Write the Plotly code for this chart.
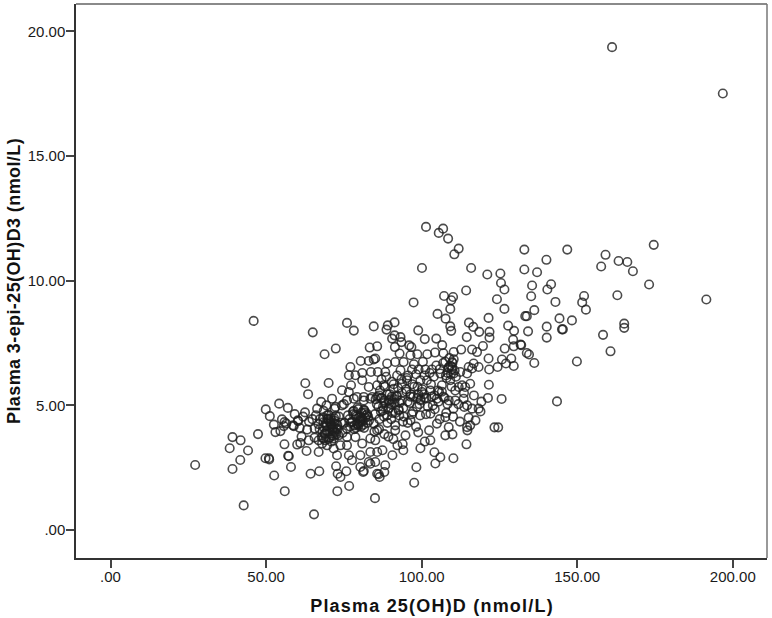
import plotly.graph_objects as go

x_tick_vals = [0, 50, 100, 150, 200]
x_tick_text = [".00", "50.00", "100.00", "150.00", "200.00"]
y_tick_vals = [0, 5, 10, 15, 20]
y_tick_text = [".00", "5.00", "10.00", "15.00", "20.00"]
x_title = "Plasma 25(OH)D (nmol/L)"
y_title = "Plasma 3-epi-25(OH)D3 (nmol/L)"

plasma_25ohd = [
 27.2,38.3,39.2,39.2,41.8,41.7,44.2,42.8,47.4,49.9,51.2,54.2,57.0,49.8,50.9,51.0,52.5,53.0,54.6,55.1,55.9,55.7,56.5,58.7,58.9,60.3,55.9,60.0,61.0,57.1,57.3,52.6,58.0,56.0,
 46.0,65.0,68.8,72.4,76.0,78.2,84.6,83.3,85.7,62.6,63.5,70.1,77.1,80.4,83.0,84.6,76.6,78.7,80.9,83.7,85.9,80.9,77.3,74.4,76.6,71.2,78.2,83.0,85.7,84.1,81.4,
 62.5,60.2,66.4,67.7,69.4,72.0,74.4,76.0,63.2,65.6,65.6,63.7,63.0,66.9,64.3,67.1,72.5,75.8,73.0,73.9,76.7,72.9,85.0,65.4,80.3,81.4,83.5,85.7,86.2,86.5,88.0,97.6,81.2,98.3,
 101.4,106.9,105.5,108.5,111.9,110.5,133.0,133.0,137.1,100.1,115.9,121.1,125.3,125.5,126.6,114.3,124.2,135.5,135.2,126.6,136.2,133.8,133.3,97.4,107.2,110.1,109.5,109.2,105.1,107.7,121.5,115.2,116.6,118.5,109.2,109.5,127.8,129.7,134.2,98.9,101.0,104.7,114.5,121.8,121.8,129.4,129.6,131.8,132.0,133.8,134.5,136.2,126.7,119.7,106.6,
 91.3,89.1,88.7,91.3,90.5,93.2,93.5,96.0,96.7,91.4,92.9,96.4,98.6,101.8,104.3,107.0,110.3,112.7,116.2,117.8,121.5,125.8,128.8,124.4,127.1,129.6,121.7,121.6,125.7,85.1,
 88.9,91.5,94.2,88.3,93.2,96.9,99.0,101.2,103.3,106.0,108.7,109.8,109.8,110.3,109.2,112.4,115.1,116.7,118.3,114.6,116.2,115.6,114.0,111.9,106.5,101.7,99.6,95.3,93.7,91.0,87.8,100.1,99.6,104.9,110.8,113.5,114.6,118.3,89.4,
 146.8,140.1,159.1,157.7,163.3,166.1,167.9,174.6,173.1,162.9,141.6,140.4,143.0,152.2,151.6,152.8,144.3,148.3,140.2,145.1,145.4,140.2,165.1,165.1,158.3,160.7,149.9,143.5,191.5,196.8,161.2,
 68.5,72.3,75.0,79.2,81.4,83.5,85.7,66.9,68.5,68.0,69.6,71.7,73.9,72.8,76.0,76.6,77.6,80.3,83.5,85.7,83.0,85.1,85.1,83.5,80.9,78.7,76.0,73.3,76.0,84.6,85.7,
 108.7,110.8,113.0,113.7,116.2,110.2,102.8,107.6,104.9,115.1,117.3,114.6,108.7,123.4,124.6,118.9,114.4,110.2,106.0,104.1,104.4,109.9,114.7,115.6,107.6,102.8,99.6,98.9,94.8,96.4,91.5,94.1,90.6,87.4,88.3,
 # knot near 70 / 4.1
 67.2,68.4,68.9,69.5,70.0,70.3,70.8,71.2,71.5,72.0,72.4,72.9,73.4,67.9,69.0,70.1,71.0,71.9,73.0,74.1,68.3,69.6,70.7,71.8,72.7,66.8,74.6,75.2,
 68.9,69.8,70.4,71.1,71.8,72.4,69.2,70.0,70.7,71.4,72.1,68.6,69.5,70.2,71.0,71.7,72.6,68.2,
 # knot near 80 / 4.5
 76.3,77.2,77.9,78.4,79.0,79.6,80.1,80.7,81.2,81.9,82.5,83.1,77.0,78.3,79.4,80.5,81.6,82.8,76.8,78.1,79.3,80.4,81.5,79.8,
 77.6,78.8,79.7,80.9,81.8,82.6,78.2,79.5,80.3,81.1,82.2,78.9,80.0,81.4,
 # around 90 / 5
 85.6,86.9,88.0,89.2,90.4,91.6,92.9,94.1,86.3,87.6,88.9,90.1,91.3,92.6,85.0,87.2,89.6,92.0,
 # column near 109 / 6.5
 108.0,108.6,109.4,109.9,110.6,107.6,108.9,109.7,110.3,108.3,109.2,111.0,
 # central body
 85.2,86.1,87.0,87.6,88.2,88.9,89.5,90.1,90.7,91.3,92.0,92.6,93.3,86.4,87.9,89.0,90.2,91.5,92.8,94.0,95.1,96.2,97.3,98.5,99.7,100.8,102.0,103.1,104.2,105.4,106.5,
 86.6,88.1,89.7,91.0,92.4,93.7,95.0,96.4,97.6,98.9,100.2,101.5,102.8,104.1,105.6,107.0,108.3,
 84.8,86.3,88.0,89.3,90.9,92.2,93.9,95.5,96.8,98.2,99.5,101.0,102.4,
 87.1,88.6,90.4,92.1,93.5,95.2,97.0,98.6,
 60.8,61.9,59.2,63.8,64.9,61.4,66.0,67.3,
 95.5,97.2,99.3,101.4,103.6,105.8,107.9,110.1,112.3,94.3,96.5,98.7,100.9,103.0,105.2,107.4,109.6,111.8,113.6,116.8,119.2,121.3,
 97.5,100.4,102.6,104.7,106.9,95.6,98.2,100.9,103.9,105.8,107.8,
]

plasma_epi = [
 2.61,3.28,3.73,2.45,3.60,2.81,3.19,0.99,3.85,4.84,4.57,5.07,4.90,2.88,2.88,2.83,4.23,3.93,3.97,4.44,4.33,4.17,4.27,4.20,4.17,4.37,3.44,3.43,3.49,2.98,2.96,2.19,2.53,1.56,
 8.39,7.93,7.05,7.28,8.31,8.00,8.17,7.32,7.37,5.89,5.45,5.90,6.54,6.78,6.78,6.84,6.21,6.21,6.30,6.34,6.34,6.01,5.81,5.61,5.54,5.27,5.27,5.74,5.81,5.34,5.20,
 4.72,4.40,4.87,5.14,5.00,4.87,5.00,5.20,4.03,4.07,3.71,3.60,3.17,3.13,2.26,2.36,2.56,2.36,2.26,2.13,1.77,1.56,1.28,0.63,2.53,2.37,2.66,2.26,2.24,2.13,2.33,1.90,2.33,2.52,
 12.16,12.09,11.92,11.69,11.29,11.06,11.25,10.45,10.34,10.51,10.51,10.25,10.29,9.91,9.65,9.61,9.26,9.81,9.38,8.87,8.82,8.58,8.58,9.13,9.39,9.35,9.22,8.87,8.67,8.48,8.51,8.32,8.15,7.95,8.17,7.99,8.20,7.99,7.97,8.01,7.66,7.68,7.74,7.95,7.72,7.64,7.37,7.44,7.42,7.10,7.04,6.70,7.28,7.38,7.42,
 8.33,8.21,8.04,7.81,7.68,7.74,7.54,7.41,7.34,7.34,7.08,7.01,7.05,7.05,7.12,7.09,7.14,7.24,7.24,7.14,6.88,6.84,6.88,6.54,6.68,6.58,6.44,5.83,5.26,6.88,
 6.68,6.74,6.74,6.34,6.41,6.44,6.44,6.44,6.44,6.28,6.54,6.74,6.54,6.28,6.01,6.34,6.54,6.68,6.54,6.28,6.48,5.87,5.74,5.74,5.81,6.01,6.01,6.01,5.87,5.67,5.81,5.54,5.20,5.27,5.20,5.27,5.00,4.87,5.20,
 11.25,10.84,11.04,10.57,10.79,10.75,10.38,11.44,9.85,9.42,9.86,9.65,9.15,9.39,9.13,8.84,8.49,8.41,8.16,8.05,8.05,7.72,8.28,8.11,7.83,7.17,6.76,5.16,9.25,17.51,19.37,
 4.78,4.94,5.05,5.34,5.34,5.27,5.34,3.60,3.67,3.47,3.40,3.27,3.40,3.00,3.40,3.00,2.80,3.00,3.13,3.13,2.73,2.73,3.60,3.67,3.47,3.73,3.73,3.80,4.07,4.27,4.00,
 5.20,5.60,5.81,4.94,4.87,4.87,4.67,4.53,4.27,4.51,4.40,4.13,4.13,4.12,4.12,4.76,3.44,2.88,2.92,3.12,2.67,3.84,4.00,4.20,3.80,3.60,3.28,3.92,3.80,4.40,4.00,3.20,3.00,3.20,2.60,
 4.05,4.32,3.88,4.18,4.45,3.95,4.25,3.80,4.10,4.38,3.92,4.22,4.55,3.72,3.60,4.62,3.55,4.48,4.05,4.30,4.52,4.60,4.35,3.68,3.85,4.25,3.90,4.30,
 3.85,4.45,3.72,4.20,3.95,4.58,4.30,3.65,4.48,4.02,4.28,4.12,3.98,4.38,4.15,3.78,4.08,3.95,
 4.60,4.30,4.75,4.20,4.55,4.85,4.35,4.70,4.22,4.50,4.65,4.40,4.15,4.05,4.92,4.15,4.80,4.55,4.45,4.65,4.25,4.42,4.10,4.50,
 4.35,4.62,4.18,4.48,4.72,4.30,4.78,4.25,4.55,4.38,4.60,4.10,4.28,4.82,
 5.05,4.75,5.20,4.85,5.35,4.70,5.10,4.90,5.40,4.95,4.60,5.05,5.25,4.80,4.65,5.30,5.10,5.35,
 6.10,6.50,6.25,6.70,6.40,6.75,6.90,6.45,6.85,6.30,6.60,6.15,
 5.25,4.95,5.30,4.80,5.10,5.45,4.90,5.25,4.70,5.10,5.40,4.85,5.20,4.45,4.55,4.30,4.45,4.20,4.60,4.35,5.55,5.10,5.35,4.95,5.25,5.45,4.95,5.35,4.85,5.15,5.55,
 5.60,5.75,5.45,5.85,5.70,5.50,5.65,5.35,5.75,5.45,5.65,5.30,5.60,5.40,5.55,5.35,5.05,
 3.95,4.05,3.85,3.75,3.65,3.40,3.45,4.30,4.65,4.15,4.60,3.55,4.00,
 6.05,6.15,5.95,6.20,6.05,6.10,5.85,5.30,
 4.10,4.55,4.65,4.35,4.45,3.75,4.60,4.45,
 5.15,4.75,5.05,4.65,5.00,4.45,4.70,4.55,4.35,4.55,5.45,5.75,5.30,5.85,5.60,5.30,5.75,5.05,5.50,5.40,5.15,5.30,
 6.65,6.75,6.30,6.60,6.70,6.20,6.25,6.20,6.15,6.45,6.20,
]

fig = go.Figure(go.Scatter(
    x=plasma_25ohd, y=plasma_epi, mode="markers",
    marker=dict(symbol="circle-open", size=8.5, color="rgba(30,30,30,0.8)", line=dict(width=1.6)),
    hoverinfo="skip",
))

axis_font = dict(family="Liberation Sans, Arial, sans-serif", size=15, color="#1a1a1a")
title_font = dict(family="Liberation Sans, Arial, sans-serif", size=18, color="#111111")

fig.update_layout(
    width=772, height=618, autosize=False,
    margin=dict(l=76, r=5, t=4, b=60, pad=0),
    paper_bgcolor="white", plot_bgcolor="white", showlegend=False,
    xaxis=dict(range=[-11.1, 211.0], tickvals=x_tick_vals, ticktext=x_tick_text,
               showgrid=False, zeroline=False, showline=True, linecolor="#333333", linewidth=1.5,
               ticks="outside", ticklen=8, tickwidth=1.5, tickcolor="#444444", tickfont=axis_font,
               ticklabelstandoff=-4),
    yaxis=dict(range=[-1.12, 21.1], tickvals=y_tick_vals, ticktext=y_tick_text,
               showgrid=False, zeroline=False, showline=True, linecolor="#333333", linewidth=1.5,
               ticks="outside", ticklen=8, tickwidth=1.5, tickcolor="#444444", tickfont=axis_font,
               ticklabelstandoff=-2),
    annotations=[
        dict(text="<b>%s</b>" % x_title, xref="paper", yref="paper", x=0.5145, y=0, yshift=-48,
             xanchor="center", yanchor="middle", showarrow=False, font=title_font),
        dict(text="<b>%s</b>" % y_title, xref="paper", yref="paper", x=0, y=0.5, xshift=-62,
             xanchor="center", yanchor="middle", showarrow=False, textangle=-90, font=title_font),
    ],
    shapes=[
        dict(type="line", xref="paper", yref="paper", x0=0, x1=1, y0=1, y1=1, line=dict(color="#8a8a8a", width=2)),
        dict(type="line", xref="paper", yref="paper", x0=1, x1=1, y0=0, y1=1, line=dict(color="#777777", width=1.5)),
    ],
)
style_js = ("var s=document.createElement('style');s.textContent="
            "'.annotation[data-index=\"0\"] text{letter-spacing:1.2px}"
            ".annotation[data-index=\"1\"] text{letter-spacing:0.4px}';"
            "document.head.appendChild(s);document.body.style.margin='0';")
fig.write_html("out.html", post_script=style_js, config={"displayModeBar": False})
